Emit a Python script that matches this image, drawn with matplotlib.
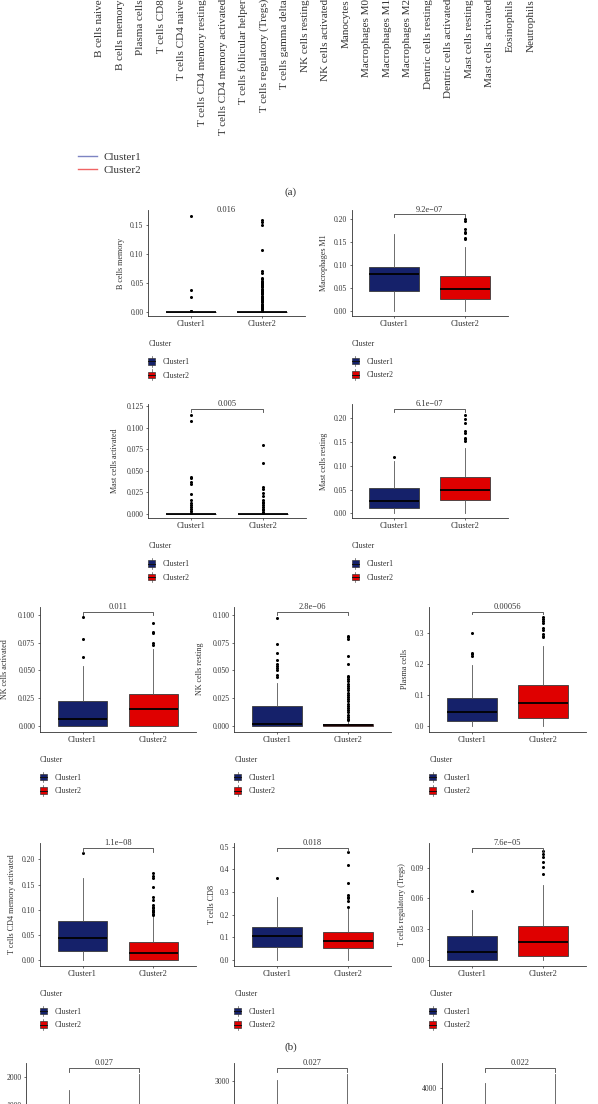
import matplotlib
matplotlib.use("Agg")
import matplotlib.pyplot as plt
from matplotlib.patches import Rectangle, Patch
from matplotlib.lines import Line2D
from matplotlib.legend_handler import HandlerBase

plt.rcParams['font.family'] = ['Liberation Serif', 'DejaVu Serif']

W, H = 598, 1104

cell_types = [
    'B cells naive', 'B cells memory', 'Plasma cells', 'T cells CD8',
    'T cells CD4 naive', 'T cells CD4 memory resting',
    'T cells CD4 memory activated', 'T cells follicular helper',
    'T cells regulatory (Tregs)', 'T cells gamma delta', 'NK cells resting',
    'NK cells activated', 'Manocytes', 'Macrophages M0', 'Macrophages M1',
    'Macrophages M2', 'Dentric cells resting', 'Dentric cells activated',
    'Mast cells resting', 'Mast cells activated', 'Eosinophils', 'Neutrophils',
]
groups = ['Cluster1', 'Cluster2']

# box stats per cluster: [whislo, q1, median, q3, whishi]
bmem_box = [[0, 0, 0, 0, 0], [0, 0, 0, 0, 0]]
bmem_out = [[0.001, 0.002, 0.026, 0.038, 0.165],
            [0.001, 0.002, 0.004, 0.006, 0.008, 0.010, 0.012, 0.014, 0.016, 0.018,
             0.020, 0.022, 0.024, 0.026, 0.028, 0.030, 0.032, 0.034, 0.036, 0.038,
             0.040, 0.042, 0.044, 0.046, 0.048, 0.050, 0.052, 0.054, 0.056, 0.058,
             0.067, 0.070, 0.106, 0.150, 0.155, 0.158]]
bmem_ticks = [0.0, 0.05, 0.10, 0.15]
bmem_labels = ['0.00', '0.05', '0.10', '0.15']

m1_box = [[0, 0.044, 0.079, 0.095, 0.168], [0, 0.026, 0.048, 0.075, 0.140]]
m1_out = [[], [0.156, 0.158, 0.169, 0.172, 0.1775, 0.196, 0.200]]
m1_ticks = [0.0, 0.05, 0.10, 0.15, 0.20]
m1_labels = ['0.00', '0.05', '0.10', '0.15', '0.20']

mact_box = [[0, 0, 0, 0, 0], [0, 0, 0, 0, 0]]
mact_out = [[0.001, 0.003, 0.005, 0.008, 0.010, 0.013, 0.016, 0.023, 0.034, 0.037,
             0.041, 0.043, 0.108, 0.115],
            [0.001, 0.002, 0.004, 0.006, 0.008, 0.010, 0.012, 0.014, 0.016, 0.020,
             0.024, 0.029, 0.031, 0.059, 0.080]]
mact_ticks = [0.0, 0.025, 0.05, 0.075, 0.10, 0.125]
mact_labels = ['0.000', '0.025', '0.050', '0.075', '0.100', '0.125']

mrest_box = [[0, 0.012, 0.026, 0.054, 0.110], [0, 0.029, 0.049, 0.076, 0.138]]
mrest_out = [[0.118], [0.152, 0.156, 0.159, 0.170, 0.173, 0.1895, 0.1986, 0.2077]]
mrest_ticks = [0.0, 0.05, 0.10, 0.15, 0.20]
mrest_labels = ['0.00', '0.05', '0.10', '0.15', '0.20']

nkact_box = [[0, 0, 0.006, 0.022, 0.054], [0, 0, 0.015, 0.029, 0.069]]
nkact_out = [[0.062, 0.078, 0.098], [0.073, 0.075, 0.084, 0.085, 0.093]]
nk_ticks = [0.0, 0.025, 0.05, 0.075, 0.10]
nk_labels = ['0.000', '0.025', '0.050', '0.075', '0.100']

nkrest_box = [[0, 0, 0.0015, 0.0175, 0.039], [0, 0, 0.0005, 0.002, 0.004]]
nkrest_out = [[0.044, 0.046, 0.050, 0.052, 0.054, 0.056, 0.059, 0.066, 0.074, 0.097],
              [0.005, 0.006, 0.008, 0.010, 0.012, 0.014, 0.016, 0.018, 0.020, 0.022,
               0.024, 0.026, 0.028, 0.030, 0.032, 0.034, 0.036, 0.038, 0.040, 0.042,
               0.044, 0.045, 0.056, 0.063, 0.078, 0.080, 0.081]]

plasma_box = [[0, 0.016, 0.045, 0.089, 0.195], [0, 0.025, 0.072, 0.130, 0.256]]
plasma_out = [[0.225, 0.232, 0.236, 0.300],
              [0.285, 0.290, 0.296, 0.310, 0.316, 0.330, 0.338, 0.345, 0.350]]
plasma_ticks = [0.0, 0.1, 0.2, 0.3]
plasma_labels = ['0.0', '0.1', '0.2', '0.3']

cd4act_box = [[0, 0.018, 0.044, 0.077, 0.163], [0, 0, 0.014, 0.036, 0.088]]
cd4act_out = [[0.212],
              [0.090, 0.092, 0.095, 0.098, 0.100, 0.103, 0.106, 0.110, 0.120, 0.125,
               0.145, 0.163, 0.168, 0.172]]
cd4act_ticks = [0.0, 0.05, 0.10, 0.15, 0.20]
cd4act_labels = ['0.00', '0.05', '0.10', '0.15', '0.20']

cd8_box = [[0, 0.057, 0.106, 0.147, 0.278], [0, 0.052, 0.082, 0.124, 0.230]]
cd8_out = [[0.360], [0.232, 0.262, 0.272, 0.280, 0.285, 0.338, 0.418, 0.476]]
cd8_ticks = [0.0, 0.1, 0.2, 0.3, 0.4, 0.5]
cd8_labels = ['0.0', '0.1', '0.2', '0.3', '0.4', '0.5']

treg_box = [[0, 0, 0.0075, 0.0235, 0.049], [0, 0.0035, 0.0175, 0.0335, 0.073]]
treg_out = [[0.067], [0.084, 0.091, 0.096, 0.100, 0.103, 0.106]]
treg_ticks = [0.0, 0.03, 0.06, 0.09]
treg_labels = ['0.00', '0.03', '0.06', '0.09']

# bottom (c) panels, only their tops are on the page
stromal_box = [[-1200, -300, 300, 800, 1530], [-1000, 0, 500, 950, 2095]]
immune_box = [[-500, 600, 1100, 1600, 3020], [-300, 800, 1300, 1900, 3220]]
estimate_box = [[-1000, 500, 1500, 2400, 4250], [-800, 800, 1800, 2800, 4715]]

navy = '#15216a'
red = '#df0000'
colors = [navy, red]
ink = '#333333'


class BoxKey(HandlerBase):
    def create_artists(self, legend, orig_handle, xdescent, ydescent,
                       width, height, fontsize, trans):
        x0, y0 = -xdescent, -ydescent
        cx = x0 + width / 2
        bw = width * 0.85
        whisk = Line2D([cx, cx], [y0 - 1.5, y0 + height + 1.5], color='#555555',
                       lw=0.5, transform=trans)
        rect = Rectangle((cx - bw / 2, y0), bw, height,
                         facecolor=orig_handle.get_facecolor(),
                         edgecolor='#3a3a3a', lw=0.5, transform=trans)
        med = Line2D([cx - bw / 2, cx + bw / 2], [y0 + height / 2] * 2,
                     color='#111111', lw=0.7, transform=trans)
        return [whisk, rect, med]


fig = plt.figure(figsize=(W / 100, H / 100), dpi=100)


def box_panel(rect, box, out, ticks, ticklabels, ylim, ylabel=None, ylab_x=None,
              pval=None, p_y=None, bracket=None, legend=True):
    L, T, R, B = rect
    ax = fig.add_axes([L / W, 1 - B / H, (R - L) / W, (B - T) / H])
    stats = [dict(label=g, whislo=s[0], q1=s[1], med=s[2], q3=s[3], whishi=s[4],
                  fliers=o) for g, s, o in zip(groups, box, out)]
    bp = ax.bxp(stats, positions=[1, 2], widths=0.7, patch_artist=True,
                showcaps=False,
                boxprops=dict(edgecolor='#3a3a3a', linewidth=0.6),
                medianprops=dict(color='black', linewidth=1.3),
                whiskerprops=dict(color='#555555', linewidth=0.6),
                flierprops=dict(marker='o', markerfacecolor='black',
                                markeredgecolor='none', markersize=2.2))
    for patch, c in zip(bp['boxes'], colors):
        patch.set_facecolor(c)
    ax.set_xlim(0.4, 2.6)
    ax.set_ylim(*ylim)
    ax.set_yticks(ticks, ticklabels)
    for side in ['top', 'right']:
        ax.spines[side].set_visible(False)
    for side in ['left', 'bottom']:
        ax.spines[side].set_color(ink)
        ax.spines[side].set_linewidth(0.6)
    ax.tick_params(axis='y', length=1.5, width=0.5, pad=2, labelsize=5.5,
                   colors=ink)
    ax.tick_params(axis='x', length=1.5, width=0.5, pad=1.5, labelsize=6,
                   colors=ink)
    if ylabel:
        ax.set_ylabel(ylabel, fontsize=5.9, color=ink)
        ax.yaxis.set_label_coords((ylab_x + 4.3 - L) / (R - L), 0.5)
    if bracket:
        ax.plot([1, 1, 2, 2], [bracket[1], bracket[0], bracket[0], bracket[1]],
                color='#444444', lw=0.6, clip_on=False)
    if pval:
        ax.text(1.5, p_y, pval, ha='center', va='center', fontsize=6,
                color=ink, clip_on=False)
    if legend:
        fig.text(L / W, 1 - (B + 28) / H, 'Cluster', fontsize=5.7, color=ink,
                 ha='left', va='center')
        handles = [Patch(facecolor=c) for c in colors]
        fig.legend(handles, groups, loc='center left',
                   bbox_to_anchor=((L - 0.5) / W, 1 - (B + 52.75) / H),
                   frameon=False, fontsize=5.7, handler_map={Patch: BoxKey()},
                   handlelength=1.0, handleheight=0.9, handletextpad=0.9,
                   labelspacing=0.7, borderpad=0, borderaxespad=0,
                   labelcolor=ink)
    return ax


# (a) tick labels of the chart above the crop
ax_a = fig.add_axes([89.6 / W, 1 + 1 / H, (541.2 - 89.6) / W, 20 / H])
ax_a.set_xlim(0.5, 22.5)
ax_a.set_xticks(range(1, len(cell_types) + 1), cell_types, rotation=90,
                fontsize=8.0, color=ink)
ax_a.tick_params(length=0, pad=0)
ax_a.set_yticks([])
for s in ax_a.spines.values():
    s.set_visible(False)
ax_a.patch.set_visible(False)

line_handles = [Line2D([], [], color='#7d84c2', lw=1.0),
                Line2D([], [], color='#f06464', lw=1.0)]
fig.legend(line_handles, groups, loc='center left',
           bbox_to_anchor=(78.2 / W, 1 - 163.5 / H), frameon=False, fontsize=7.9,
           handlelength=1.67, handletextpad=0.65, labelspacing=0.3,
           borderpad=0, borderaxespad=0, labelcolor=ink)
fig.text(290.8 / W, 1 - 191.7 / H, '(a)', ha='center', va='center', fontsize=8,
         color=ink)

# (b) 2x2 block
box_panel((148.3, 210, 305, 316), bmem_box, bmem_out, bmem_ticks, bmem_labels,
          (-0.0074, 0.176), 'B cells memory', 120.7, '0.016', 0.176)
box_panel((351.7, 210, 507.5, 315.7), m1_box, m1_out, m1_ticks, m1_labels,
          (-0.0109, 0.2196), 'Macrophages M1', 323.3, '9.2e\u221207', 0.2196,
          (0.210, 0.205))
box_panel((148.3, 404, 306, 518.3), mact_box, mact_out, mact_ticks, mact_labels,
          (-0.0053, 0.1273), 'Mast cells activated', 115, '0.005', 0.127,
          (0.121, 0.1184))
box_panel((351.7, 404, 507.5, 518.3), mrest_box, mrest_out, mrest_ticks,
          mrest_labels, (-0.0105, 0.230), 'Mast cells resting', 323.3,
          '6.1e\u221207', 0.2295, (0.219, 0.214))

# (b) 3x2 block
box_panel((40, 606.7, 196, 731.7), nkact_box, nkact_out, nk_ticks, nk_labels,
          (-0.0054, 0.1075), 'NK cells activated', 4.7, '0.011', 0.1075,
          (0.1024, 0.100))
box_panel((234.3, 606.7, 390.7, 731.7), nkrest_box, nkrest_out, nk_ticks,
          nk_labels, (-0.0054, 0.1075), 'NK cells resting', 200, '2.8e\u221206',
          0.1075, (0.1024, 0.100))
box_panel((429.3, 606.7, 585.5, 731.7), plasma_box, plasma_out, plasma_ticks,
          plasma_labels, (-0.0194, 0.384), 'Plasma cells', 405, '0.00056', 0.384,
          (0.368, 0.359))
box_panel((40, 842.7, 196, 965.7), cd4act_box, cd4act_out, cd4act_ticks,
          cd4act_labels, (-0.0107, 0.233), 'T cells CD4 memory activated', 11.7,
          '1.1e\u221208', 0.233, (0.222, 0.215))
box_panel((234.3, 842.7, 390.7, 965.7), cd8_box, cd8_out, cd8_ticks, cd8_labels,
          (-0.0252, 0.5177), 'T cells CD8', 211.7, '0.018', 0.5177,
          (0.496, 0.482))
box_panel((429.3, 842.7, 585.5, 965.7), treg_box, treg_out, treg_ticks,
          treg_labels, (-0.0056, 0.1144), 'T cells regulatory (Tregs)', 401.7,
          '7.6e\u221205', 0.1144, (0.109, 0.1056))

fig.text(290.8 / W, 1 - 1047 / H, '(b)', ha='center', va='center', fontsize=8,
         color=ink)

# (c) panels cut by the page edge; only the ticks near the top are shown
for rect, box, ticks, labels, ylim, pval, p_y, bracket in [
        ((26.3, 1062.7, 181.7, 1190), stromal_box, [1000, 2000], ['1000', '2000'],
         (-2003, 2495), '0.027', 2473, (2297, 2177)),
        ((234.3, 1062.7, 389.7, 1190), immune_box, [3000], ['3000'],
         (-643, 3600), '0.027', 3580, (3413, 3300)),
        ((442.3, 1062.7, 597.5, 1190), estimate_box, [4000], ['4000'],
         (-1085, 5280), '0.022', 5250, (5000, 4830))]:
    ax_c = box_panel(rect, box, [[], []], ticks, labels, ylim, pval=pval,
                     p_y=p_y, bracket=bracket, legend=False)
    ax_c.set_xticklabels([])

fig.savefig('out.png', dpi=100)
